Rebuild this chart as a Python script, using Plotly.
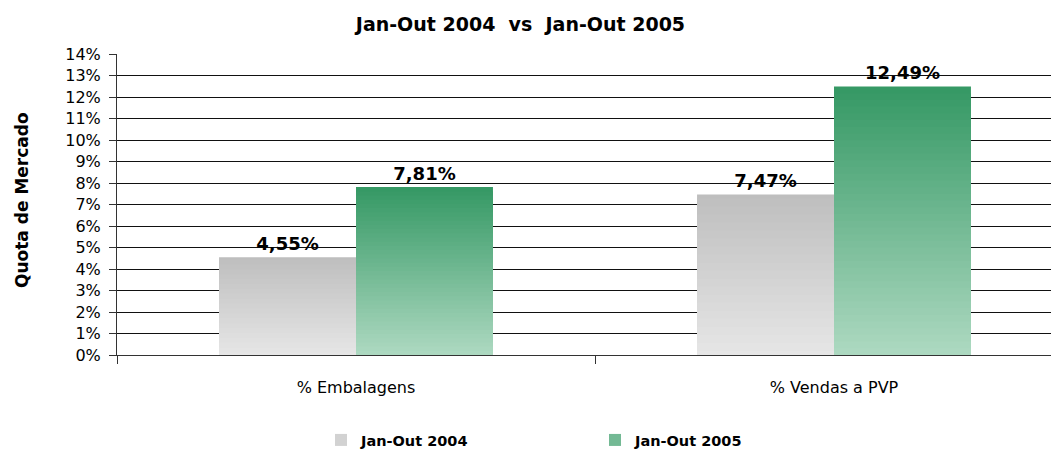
import plotly.graph_objects as go

categories = ["% Embalagens", "% Vendas a PVP"]
series_names = ["Jan-Out 2004", "Jan-Out 2005"]
values_2004 = [4.55, 7.47]
values_2005 = [7.81, 12.49]
y_ticks = list(range(0, 15))
y_tick_labels = [f"{v}%" for v in y_ticks]

# gradient colours (bottom -> top)
grad = {
    "Jan-Out 2004": ((230, 230, 230), (190, 190, 190)),
    "Jan-Out 2005": ((174, 217, 193), (52, 152, 100)),
}
N = 40

def mix(c0, c1, t):
    return "rgb(%d,%d,%d)" % tuple(round(a + (b - a) * t) for a, b in zip(c0, c1))

def fmt(v):
    return f"{v:.2f}".replace(".", ",") + "%"

FIG_W, FIG_H = 1051, 442  # page body has an 8px margin
M_L, M_R, M_T, M_B = 109, 0, 46, 95
PLOT_W = FIG_W - M_L - M_R

fig = go.Figure()
for name, vals in zip(series_names, [values_2004, values_2005]):
    c0, c1 = grad[name]
    for i in range(N):
        t = (N - i - 0.5) / N
        first = i == 0
        fig.add_trace(go.Bar(
            x=categories,
            y=[v * (N - i) / N for v in vals],
            offsetgroup=name,
            legendgroup=name,
            name=name,
            showlegend=(i == N // 2),
            marker=dict(color=mix(c0, c1, t), line=dict(width=0)),
            text=[fmt(v) for v in vals] if first else None,
            textposition="outside" if first else "none",
            textfont=dict(family="DejaVu Sans", size=18, color="black", weight="bold"),
            cliponaxis=False,
            hoverinfo="skip",
        ))

fig.update_layout(
    width=FIG_W, height=FIG_H,
    margin=dict(l=M_L, r=M_R, t=M_T, b=M_B),
    paper_bgcolor="white", plot_bgcolor="white",
    barmode="group", bargap=0.427, bargroupgap=0,
    title=dict(text="Jan-Out 2004\u00a0\u00a0vs\u00a0\u00a0Jan-Out 2005",
               xref="container", x=0.4876, xanchor="center",
               yref="container", y=0.9638, yanchor="middle",
               font=dict(family="DejaVu Sans", size=19, color="black", weight="bold")),
    showlegend=True,
    legend=dict(orientation="h", xref="container", x=0.2978, xanchor="left",
                yref="container", y=0.0226, yanchor="middle",
                entrywidth=229, entrywidthmode="pixels", itemwidth=30,
                font=dict(family="DejaVu Sans", size=14.5, color="black", weight="bold"),
                traceorder="normal"),
    annotations=[dict(text="Quota de Mercado", textangle=-90, showarrow=False,
                      xref="paper", x=(14 - M_L) / PLOT_W, xanchor="center",
                      yref="paper", y=0.515, yanchor="middle",
                      font=dict(family="DejaVu Sans", size=17, color="black", weight="bold"))],
)
fig.update_xaxes(
    type="category", range=[-0.5, 1.4707], automargin=False,
    showline=True, linecolor="#333", linewidth=1,
    ticks="outside", tickson="boundaries", ticklen=8, tickcolor="#333",
    ticklabelstandoff=18,
    showgrid=False,
    tickfont=dict(family="DejaVu Sans", size=16, color="black"),
)
fig.update_yaxes(
    range=[0, 14], tickvals=y_ticks, ticktext=y_tick_labels, automargin=False,
    showline=True, linecolor="#333", linewidth=1,
    ticks="outside", ticklen=7, tickcolor="#333",
    ticklabelstandoff=5,
    showgrid=True, gridcolor="#111", gridwidth=1, zeroline=False,
    tickfont=dict(family="DejaVu Sans", size=16, color="black"),
)
fig.write_html("out.html")
